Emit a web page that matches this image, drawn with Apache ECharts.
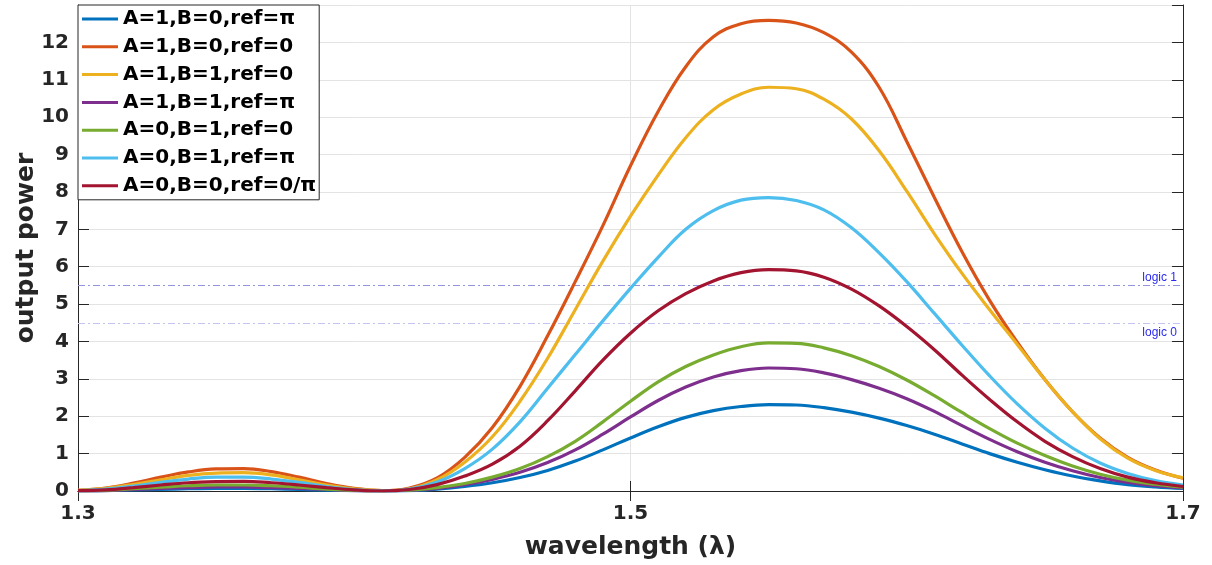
<!DOCTYPE html>
<html>
<head>
<meta charset="utf-8">
<script src="https://cdn.jsdelivr.net/npm/echarts@6/dist/echarts.min.js"></script>
<style>html,body{margin:0;padding:0;background:#fff}#c{width:1212px;height:565px}</style>
</head>
<body>
<div id="c"></div>
<script>
const wavelengths = [1.30,1.31,1.32,1.33,1.34,1.35,1.36,1.37,1.38,1.39,1.40,1.41,1.42,1.43,1.44,1.45,1.46,1.47,1.48,1.49,1.50,1.51,1.52,1.53,1.54,1.55,1.56,1.57,1.58,1.59,1.60,1.61,1.62,1.63,1.64,1.65,1.66,1.67,1.68,1.69,1.70];
const seriesNames = ['A=1,B=0,ref=π','A=1,B=0,ref=0','A=1,B=1,ref=0','A=1,B=1,ref=π','A=0,B=1,ref=0','A=0,B=1,ref=π','A=0,B=0,ref=0/π'];
const a1b0refPi = [0.0,0.01,0.03,0.04,0.06,0.07,0.07,0.06,0.04,0.02,0.01,0.0,0.01,0.05,0.12,0.22,0.36,0.55,0.8,1.1,1.42,1.72,1.97,2.15,2.26,2.31,2.3,2.23,2.11,1.95,1.75,1.52,1.26,1.0,0.77,0.57,0.4,0.27,0.17,0.11,0.07];
const a1b0ref0 = [0.02,0.08,0.21,0.37,0.51,0.59,0.60,0.52,0.37,0.20,0.07,0.01,0.08,0.35,0.9,1.7,2.8,4.15,5.6,7.1,8.7,10.15,11.35,12.15,12.5,12.59,12.52,12.26,11.74,10.8,9.35,7.85,6.4,5.1,3.98,2.98,2.12,1.42,0.9,0.56,0.34];
const a1b1ref0 = [0.02,0.07,0.17,0.30,0.42,0.48,0.49,0.43,0.30,0.16,0.06,0.01,0.06,0.3,0.77,1.45,2.4,3.55,4.85,6.15,7.35,8.45,9.45,10.2,10.62,10.8,10.76,10.48,9.95,9.1,8.02,6.88,5.82,4.85,3.92,2.98,2.12,1.4,0.88,0.55,0.35];
const a1b1refPi = [0.0,0.01,0.04,0.07,0.09,0.11,0.11,0.09,0.07,0.04,0.01,0.0,0.02,0.07,0.17,0.31,0.5,0.76,1.1,1.52,1.98,2.42,2.78,3.05,3.22,3.29,3.27,3.16,2.98,2.75,2.47,2.13,1.75,1.38,1.05,0.77,0.54,0.36,0.23,0.14,0.08];
const a0b1ref0 = [0.0,0.02,0.06,0.10,0.14,0.16,0.16,0.14,0.10,0.05,0.02,0.0,0.02,0.09,0.2,0.37,0.6,0.92,1.33,1.85,2.4,2.92,3.33,3.64,3.86,3.96,3.95,3.83,3.62,3.33,2.97,2.55,2.1,1.67,1.28,0.95,0.67,0.45,0.29,0.18,0.1];
const a0b1refPi = [0.01,0.05,0.13,0.23,0.32,0.37,0.37,0.32,0.23,0.12,0.04,0.0,0.05,0.24,0.6,1.12,1.85,2.75,3.65,4.55,5.42,6.25,7.0,7.5,7.78,7.85,7.77,7.52,7.04,6.37,5.6,4.75,3.9,3.08,2.33,1.68,1.15,0.75,0.47,0.28,0.16];
const a0b0ref0pi = [0.01,0.03,0.09,0.16,0.22,0.25,0.26,0.22,0.16,0.09,0.03,0.0,0.04,0.17,0.4,0.72,1.2,1.88,2.68,3.5,4.22,4.82,5.28,5.62,5.84,5.92,5.89,5.72,5.4,4.95,4.4,3.78,3.1,2.45,1.85,1.33,0.92,0.6,0.37,0.22,0.12];
const seriesValues = [a1b0refPi, a1b0ref0, a1b1ref0, a1b1refPi, a0b1ref0, a0b1refPi, a0b0ref0pi];
const colors = ['#0072BD','#D95319','#EDB120','#7E2F8E','#77AC30','#4DBEEE','#A2142F'];
const logicLevels = [5.5, 4.5];
const logicLabels = ['logic 1', 'logic 0'];
const xTicks = [1.3, 1.5, 1.7];

const FONT = 'DejaVu Sans';
const AX = '#262626';

const chart = echarts.init(document.getElementById('c'), null, {renderer: 'canvas'});

const series = seriesNames.map((name, i) => ({
  name: name,
  type: 'line',
  xAxisIndex: 0, yAxisIndex: 0,
  data: wavelengths.map((w, k) => [w, seriesValues[i][k]]),
  symbol: 'none',
  smooth: 0.4,
  lineStyle: {width: 3.2, color: colors[i]},
  itemStyle: {color: colors[i]},
  z: 3 + i,
  animation: false
}));

series[0].markLine = {
  silent: true,
  symbol: 'none',
  animation: false,
  z: 1,
  data: [
    {yAxis: logicLevels[0], lineStyle: {color: '#9494dc', width: 1, type: [7, 3, 2, 3]},
     label: {show: true, position: 'insideEndTop', formatter: logicLabels[0], color: '#2a2af0', fontFamily: 'Liberation Sans', fontSize: 12, distance: [6, 2]}},
    {yAxis: logicLevels[1], lineStyle: {color: '#c3c3f4', width: 1, type: [7, 3, 2, 3]},
     label: {show: true, position: 'insideEndBottom', formatter: logicLabels[1], color: '#2a2af0', fontFamily: 'Liberation Sans', fontSize: 12, distance: [6, 4]}}
  ]
};

const option = {
  backgroundColor: '#fff',
  animation: false,
  color: colors,
  grid: {left: 78, right: 29, top: 5, bottom: 71, containLabel: false},
  legend: {
    orient: 'vertical',
    left: 78, top: 5,
    backgroundColor: '#fff',
    borderColor: '#262626', borderWidth: 1,
    padding: [4, 3, 4, 4],
    icon: 'rect',
    itemWidth: 36, itemHeight: 3, itemGap: 7.8,
    textStyle: {fontFamily: FONT, fontWeight: 'bold', fontSize: 20, color: '#000', lineHeight: 20},
    data: seriesNames,
    z: 10
  },
  xAxis: [{
    type: 'value', min: xTicks[0], max: xTicks[2], interval: 0.2,
    position: 'bottom',
    name: 'wavelength (λ)', nameLocation: 'middle', nameGap: 44, nameMoveOverlap: false,
    nameTextStyle: {fontFamily: FONT, fontWeight: 'bold', fontSize: 25, color: AX},
    axisLine: {show: true, lineStyle: {color: AX, width: 1}},
    axisTick: {show: true, inside: true, length: 10, lineStyle: {color: AX}},
    axisLabel: {fontFamily: FONT, fontWeight: 'bold', fontSize: 20, color: AX, margin: 13,
      formatter: v => v.toFixed(1)},
    splitLine: {show: true, lineStyle: {color: '#e3e3e3', width: 1}}
  }, {
    type: 'value', min: xTicks[0], max: xTicks[2], interval: 0.2,
    position: 'top',
    axisLine: {show: true, lineStyle: {color: AX, width: 1}},
    axisTick: {show: true, inside: true, length: 10, lineStyle: {color: AX}},
    axisLabel: {show: false},
    splitLine: {show: false}
  }],
  yAxis: [{
    type: 'value', min: 0, max: 13, interval: 1,
    position: 'left',
    name: 'output power', nameLocation: 'middle', nameGap: 39, nameRotate: 90, nameMoveOverlap: false,
    nameTextStyle: {fontFamily: FONT, fontWeight: 'bold', fontSize: 25, color: AX},
    axisLine: {show: true, lineStyle: {color: AX, width: 1}},
    axisTick: {show: true, inside: true, length: 11, lineStyle: {color: AX}},
    axisLabel: {fontFamily: FONT, fontWeight: 'bold', fontSize: 20, color: AX, margin: 9,
      formatter: v => (v >= 13 ? '' : String(v))},
    splitLine: {show: true, lineStyle: {color: '#e3e3e3', width: 1}}
  }, {
    type: 'value', min: 0, max: 13, interval: 1,
    position: 'right',
    axisLine: {show: true, lineStyle: {color: AX, width: 1}},
    axisTick: {show: true, inside: true, length: 11, lineStyle: {color: AX}},
    axisLabel: {show: false},
    splitLine: {show: false}
  }],
  series: series
};
chart.setOption(option);
</script>
</body>
</html>
